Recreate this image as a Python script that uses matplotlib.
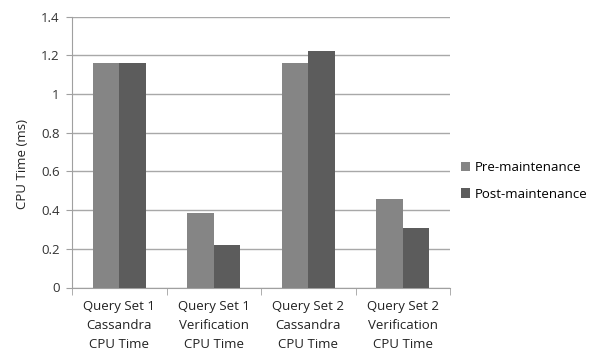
import numpy as np
import matplotlib
matplotlib.use("Agg")
import matplotlib.pyplot as plt

categories = ["Query Set 1\nCassandra\nCPU Time", "Query Set 1\nVerification\nCPU Time",
              "Query Set 2\nCassandra\nCPU Time", "Query Set 2\nVerification\nCPU Time"]
pre = [1.16, 0.383, 1.16, 0.457]
post = [1.16, 0.22, 1.22, 0.309]

plt.rcParams['font.family'] = ['Open Sans', 'DejaVu Sans']

fig = plt.figure(figsize=(5.97, 3.54), dpi=100)
ax = fig.add_axes([72/597, 1 - 287.5/354, (450-72)/597, (287.5-16.5)/354])

x = np.arange(len(categories))
w = 0.28
ax.bar(x - w/2, pre, w, color='#858585', label='Pre-maintenance', zorder=3)
ax.bar(x + w/2, post, w, color='#5c5c5c', label='Post-maintenance', zorder=3)

ax.set_xlim(-0.5, len(categories) - 0.5)
ax.set_ylim(0, 1.4)
ax.set_yticks(np.arange(0, 1.41, 0.2))
ax.set_yticklabels(['0', '0.2', '0.4', '0.6', '0.8', '1', '1.2', '1.4'], fontsize=9.5, color='#333333')
ax.yaxis.grid(True, color='#a8a8a8', linewidth=1, zorder=0)
ax.set_axisbelow(True)

ax.set_xticks(x)
ax.set_xticklabels(categories, fontsize=9.5, color='#222222', linespacing=1.6)
ax.tick_params(axis='x', length=0, pad=9)
ax.set_xticks(np.arange(-0.5, len(categories)), minor=True)
ax.tick_params(axis='x', which='minor', length=5, color='#a0a0a0', direction='out')
ax.tick_params(axis='y', length=4, color='#a0a0a0', pad=5)

for s in ['top', 'right']:
    ax.spines[s].set_visible(False)
for s in ['left', 'bottom']:
    ax.spines[s].set_color('#a0a0a0')

ax.set_ylabel('CPU Time (ms)', fontsize=9.5, color='#222222')
ax.yaxis.set_label_coords(-0.115, 0.454)

ax.legend(loc='center left', bbox_to_anchor=(1.0, 0.393), frameon=False, fontsize=9.5,
          handlelength=0.7, handleheight=0.7, handletextpad=0.4, labelspacing=1.0,
          borderpad=0.3)

fig.savefig('out.png', dpi=100)
